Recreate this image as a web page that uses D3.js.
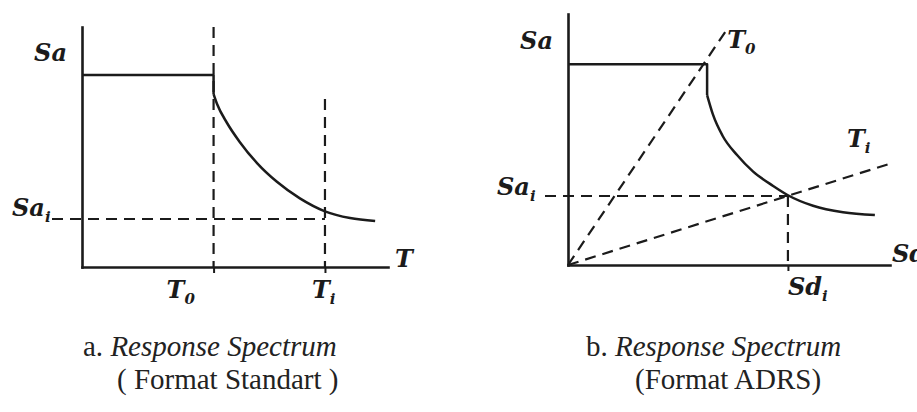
<!DOCTYPE html>
<html><head><meta charset="utf-8">
<script src="https://cdn.jsdelivr.net/npm/d3@7"></script>
<style>
html,body{margin:0;padding:0;background:#fff;}
svg{display:block;}
</style></head><body>
<svg id="chart" width="917" height="412"></svg>
<script>
// ---- Panel a: standard format, Sa against period T (unitless 0–100) ----
const stdPlateau = [[0, 80], [43, 80], [43, 72]];
const stdDecay = [[43, 72], [44.1, 68], [47.4, 60], [51.6, 52], [57.2, 43.3],
                  [63.7, 35.5], [71.2, 28.6], [79.4, 23.2], [87.6, 20.4], [95.8, 19.2]];
const stdT0 = 43, stdTi = 79.4, stdSai = 20, stdTiTop = 70;

// ---- Panel b: ADRS format, Sa against spectral displacement Sd ----
const adrsPlateau = [[0, 80], [43.2, 80], [43.2, 67.7]];
const adrsDecay = [[43.2, 67.7], [45.0, 60.0], [48.0, 51.5], [52.5, 43.8], [57.5, 37.2],
                   [63.7, 31.5], [68.3, 27.8], [76.1, 23.6], [85.4, 21.0], [95.3, 19.9]];
const adrsSdi = 68.3, adrsSai = 27.5;
const adrsRayT0 = [[0, 0], [48.8, 92.8]];
const adrsRayTi = [[0, 0], [100.6, 40.6]];

// captions
const capA = ["a. ", "Response Spectrum", "( Format Standart )"];
const capB = ["b. ", "Response Spectrum", "(Format ADRS)"];

const svg = d3.select("#chart");
const INK = "#1b1b1b";

function panel(xr, yr) {
  return {
    x: d3.scaleLinear().domain([0, 100]).range(xr),
    y: d3.scaleLinear().domain([0, 100]).range(yr)
  };
}
const A = panel([82, 388], [267, 27]);
const B = panel([568, 890], [265, 14]);

function drawAxes(g, s, ticks) {
  const ax = g.append("g").attr("transform", `translate(0,${s.y(0)})`)
    .call(d3.axisBottom(s.x).tickValues(ticks).tickSize(6).tickSizeOuter(0).tickFormat(""));
  const ay = g.append("g").attr("transform", `translate(${s.x(0)},0)`)
    .call(d3.axisLeft(s.y).tickValues([]).tickSizeOuter(0));
  [ax, ay].forEach(a => {
    a.select(".domain").attr("stroke", INK).attr("stroke-width", 2.6).attr("stroke-linecap", "square");
    a.selectAll(".tick line").attr("stroke", INK).attr("stroke-width", 2);
  });
}

function solid(g, s, pts, curve) {
  g.append("path").datum(pts)
    .attr("d", d3.line().x(d => s.x(d[0])).y(d => s.y(d[1])).curve(curve || d3.curveLinear))
    .attr("fill", "none").attr("stroke", INK).attr("stroke-width", 2.5)
    .attr("stroke-linejoin", "round");
}
function dashed(g, x1, y1, x2, y2) {
  g.append("line").attr("x1", x1).attr("y1", y1).attr("x2", x2).attr("y2", y2)
    .attr("stroke", INK).attr("stroke-width", 2.2).attr("stroke-dasharray", "11,7");
}
function label(g, x, y, main, sub, anchor) {
  const t = g.append("text").attr("x", x).attr("y", y)
    .attr("font-family", "DejaVu Serif").attr("font-style", "italic").attr("font-weight", "bold")
    .attr("font-size", 24).attr("fill", INK).attr("text-anchor", anchor || "start");
  t.append("tspan").text(main);
  if (sub) t.append("tspan").attr("font-size", 15).attr("dy", 6).text(sub);
  return t;
}
function caption(x1, y1, x2, y2, c) {
  const t1 = svg.append("text").attr("x", x1).attr("y", y1)
    .attr("font-family", "Liberation Serif").attr("font-size", 29).attr("fill", "#222");
  t1.append("tspan").text(c[0]);
  t1.append("tspan").attr("font-style", "italic").text(c[1]);
  svg.append("text").attr("x", x2).attr("y", y2)
    .attr("font-family", "Liberation Serif").attr("font-size", 29).attr("fill", "#222")
    .attr("xml:space", "preserve").text(c[2]);
}

// ---- Panel a ----
const ga = svg.append("g");
dashed(ga, A.x(stdT0), A.y(100), A.x(stdT0), A.y(0));
dashed(ga, A.x(stdTi), A.y(stdTiTop), A.x(stdTi), A.y(0));
dashed(ga, A.x(0) - 30, A.y(stdSai), A.x(stdTi), A.y(stdSai));
drawAxes(ga, A, [stdT0, stdTi]);
solid(ga, A, stdPlateau);
solid(ga, A, stdDecay, d3.curveMonotoneX);
label(ga, A.x(0) - 15, A.y(86), "Sa", null, "end");
label(ga, 12, A.y(stdSai) - 3, "Sa", "i");
label(ga, A.x(100) + 7, A.y(0), "T");
label(ga, A.x(stdT0) - 47, A.y(0) + 31, "T", "0");
label(ga, A.x(stdTi) - 13, A.y(0) + 31, "T", "i");

// ---- Panel b ----
const gb = svg.append("g");
dashed(gb, B.x(adrsRayT0[0][0]), B.y(adrsRayT0[0][1]), B.x(adrsRayT0[1][0]), B.y(adrsRayT0[1][1]));
dashed(gb, B.x(adrsRayTi[0][0]), B.y(adrsRayTi[0][1]), B.x(adrsRayTi[1][0]), B.y(adrsRayTi[1][1]));
dashed(gb, B.x(0) - 23, B.y(adrsSai), B.x(adrsSdi), B.y(adrsSai));
dashed(gb, B.x(adrsSdi), B.y(adrsSai), B.x(adrsSdi), B.y(0));
drawAxes(gb, B, [adrsSdi]);
solid(gb, B, adrsPlateau);
solid(gb, B, adrsDecay, d3.curveMonotoneX);
label(gb, B.x(0) - 15, B.y(86), "Sa", null, "end");
label(gb, 497, B.y(adrsSai) - 1, "Sa", "i");
label(gb, B.x(adrsRayT0[1][0]) + 2, B.y(86.5), "T", "0");
label(gb, 847, B.y(47), "T", "i");
label(gb, B.x(adrsSdi), B.y(0) + 30, "Sd", "i");
label(gb, B.x(100) + 2, B.y(0) - 3, "Sd");

// ---- captions ----
caption(83, 356, 117, 389, capA);
caption(586, 356, 635, 389, capB);
</script>
</body></html>
